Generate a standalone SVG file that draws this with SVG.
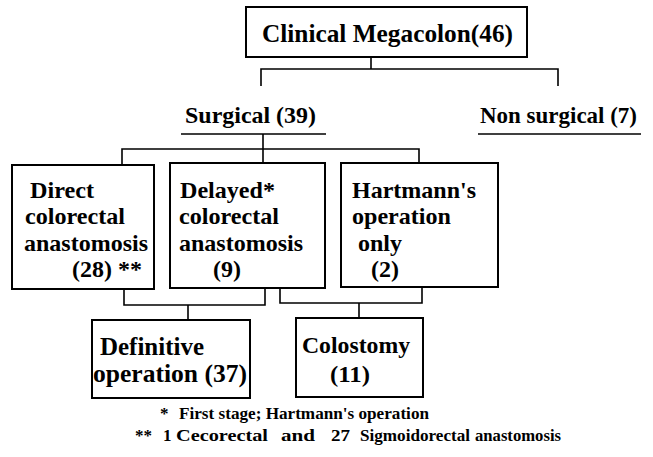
<svg xmlns="http://www.w3.org/2000/svg" width="653" height="457" viewBox="0 0 653 457">
<style>
text{font-family:'Liberation Serif','Times New Roman',Tinos,'Noto Serif','DejaVu Serif','Nimbus Roman',FreeSerif,serif;font-weight:bold;fill:#000}
.t{font-size:24px}
.h{font-size:25px}
.f{font-size:17px}
.box{fill:#fff;stroke:#000;stroke-width:2}
.ln{fill:none;stroke:#000;stroke-width:1.6}
</style>
<rect width="653" height="457" fill="#fff"/>
<g id="connectors">
<path class="ln" d="M371 57V69M261 86V69H558V86"/>
<path class="ln" d="M181 134H326M263 134V163M122 165V149H419V163"/>
<path class="ln" d="M478 134H641"/>
<path class="ln" d="M124 289V305H265V288M188 305V320"/>
<path class="ln" d="M280 288V303H422V287M359 303V318"/>
</g>
<g id="megacolon">
<rect class="box" x="246" y="7" width="281" height="50"/>
<text class="h" x="262" y="42" textLength="251" lengthAdjust="spacingAndGlyphs">Clinical Megacolon(46)</text>
</g>
<g id="surgical">
<text class="t" x="185" y="123" textLength="131" lengthAdjust="spacingAndGlyphs">Surgical (39)</text>
</g>
<g id="nonsurgical">
<text class="t" x="480" y="123" textLength="157" lengthAdjust="spacingAndGlyphs">Non surgical (7)</text>
</g>
<g id="direct">
<rect class="box" x="12" y="165" width="142" height="124"/>
<text class="t" x="30" y="198" textLength="64" lengthAdjust="spacingAndGlyphs">Direct</text>
<text class="t" x="25" y="224" textLength="100" lengthAdjust="spacingAndGlyphs">colorectal</text>
<text class="t" x="24" y="251" textLength="124" lengthAdjust="spacingAndGlyphs">anastomosis</text>
<text class="t" x="72" y="277" textLength="70" lengthAdjust="spacingAndGlyphs">(28) **</text>
</g>
<g id="delayed">
<rect class="box" x="170" y="163" width="155" height="125"/>
<text class="t" x="180" y="198" textLength="95" lengthAdjust="spacingAndGlyphs">Delayed*</text>
<text class="t" x="179" y="224" textLength="100" lengthAdjust="spacingAndGlyphs">colorectal</text>
<text class="t" x="179" y="251" textLength="124" lengthAdjust="spacingAndGlyphs">anastomosis</text>
<text class="t" x="213" y="277" textLength="28" lengthAdjust="spacingAndGlyphs">(9)</text>
</g>
<g id="hartmann">
<rect class="box" x="341" y="163" width="157" height="124"/>
<text class="t" x="352" y="198" textLength="124" lengthAdjust="spacingAndGlyphs">Hartmann's</text>
<text class="t" x="352" y="224" textLength="99" lengthAdjust="spacingAndGlyphs">operation</text>
<text class="t" x="358" y="251" textLength="44" lengthAdjust="spacingAndGlyphs">only</text>
<text class="t" x="371" y="277" textLength="28" lengthAdjust="spacingAndGlyphs">(2)</text>
</g>
<g id="definitive">
<rect class="box" x="92" y="320" width="158" height="78"/>
<text class="h" x="100" y="355" textLength="104" lengthAdjust="spacingAndGlyphs">Definitive</text>
<text class="h" x="93" y="382" textLength="154" lengthAdjust="spacingAndGlyphs">operation (37)</text>
</g>
<g id="colostomy">
<rect class="box" x="296" y="318" width="127" height="79"/>
<text class="t" x="302" y="353" textLength="108" lengthAdjust="spacingAndGlyphs">Colostomy</text>
<text class="t" x="330" y="382" textLength="40" lengthAdjust="spacingAndGlyphs">(11)</text>
</g>
<g id="footnotes">
<text class="f" x="160" y="419">*</text>
<text class="f" x="179" y="419" textLength="250" lengthAdjust="spacingAndGlyphs">First stage; Hartmann's operation</text>
<text class="f" x="135" y="441" textLength="17" lengthAdjust="spacingAndGlyphs">**</text>
<text class="f" x="163" y="441">1</text>
<text class="f" x="176" y="441" textLength="92" lengthAdjust="spacingAndGlyphs">Cecorectal</text>
<text class="f" x="281" y="441" textLength="34" lengthAdjust="spacingAndGlyphs">and</text>
<text class="f" x="331" y="441" textLength="19" lengthAdjust="spacingAndGlyphs">27</text>
<text class="f" x="360" y="441" textLength="110" lengthAdjust="spacingAndGlyphs">Sigmoidorectal</text>
<text class="f" x="475" y="441" textLength="86" lengthAdjust="spacingAndGlyphs">anastomosis</text>
</g>
</svg>
